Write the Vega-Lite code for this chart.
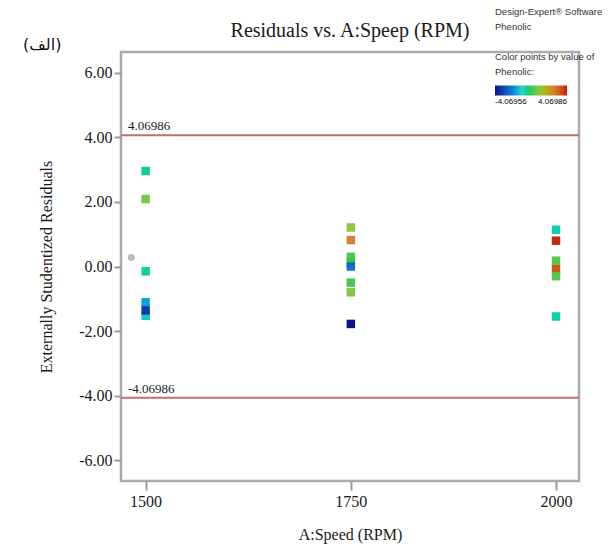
{
  "$schema": "https://vega.github.io/schema/vega-lite/v6.json",
  "width": 458,
  "height": 429,
  "autosize": {"type": "none"},
  "padding": {"left": 121, "top": 52, "right": 34, "bottom": 65},
  "background": "white",
  "title": {
    "text": "Residuals vs. A:Speep (RPM)",
    "anchor": "middle",
    "frame": "group",
    "font": "Liberation Serif",
    "fontSize": 20,
    "fontWeight": "normal",
    "color": "#1a1a1a",
    "offset": 0,
    "dy": 34
  },
  "config": {
    "view": {"stroke": "#ababab", "strokeWidth": 2.5},
    "axis": {
      "grid": false,
      "domain": false,
      "tickColor": "#9a9a9a",
      "tickWidth": 2,
      "labelFont": "Liberation Serif",
      "labelColor": "#1a1a1a",
      "titleFont": "Liberation Serif",
      "titleColor": "#1a1a1a",
      "titleFontWeight": "normal"
    }
  },
  "datasets": {
    "residuals": [
      {"speed": 1500, "resid": 2.96, "phenolic": -0.4},
      {"speed": 1500, "resid": 2.09, "phenolic": 0.7},
      {"speed": 1500, "resid": -0.15, "phenolic": -0.6},
      {"speed": 1500, "resid": -1.11, "phenolic": -1.7},
      {"speed": 1500, "resid": -1.53, "phenolic": -1.1},
      {"speed": 1500, "resid": -1.36, "phenolic": -3.3},
      {"speed": 1750, "resid": 1.21, "phenolic": 1.2},
      {"speed": 1750, "resid": 0.82, "phenolic": 2.6},
      {"speed": 1750, "resid": 0.3, "phenolic": 0.2},
      {"speed": 1750, "resid": 0.12, "phenolic": 0.0},
      {"speed": 1750, "resid": 0.0, "phenolic": -2.4},
      {"speed": 1750, "resid": -0.5, "phenolic": 0.1},
      {"speed": 1750, "resid": -0.8, "phenolic": 1.0},
      {"speed": 1750, "resid": -1.78, "phenolic": -4.0},
      {"speed": 2000, "resid": 1.14, "phenolic": -0.7},
      {"speed": 2000, "resid": 0.8, "phenolic": 3.9},
      {"speed": 2000, "resid": -0.08, "phenolic": 3.3},
      {"speed": 2000, "resid": 0.18, "phenolic": 0.3},
      {"speed": 2000, "resid": -0.3, "phenolic": 0.3},
      {"speed": 2000, "resid": -1.55, "phenolic": -0.6}
    ],
    "limits": [
      {"limit": 4.06986, "label": "4.06986"},
      {"limit": -4.06986, "label": "-4.06986"}
    ],
    "hidden": [
      {"speed": 1482.5, "resid": 0.28}
    ],
    "tag": [
      {"tag": "(الف)"}
    ]
  },
  "encoding": {
    "x": {
      "type": "quantitative",
      "scale": {"domain": [1470, 2028], "nice": false, "zero": false},
      "axis": {
        "title": "A:Speed (RPM)",
        "values": [1500, 1750, 2000],
        "format": "d",
        "tickSize": 9,
        "labelFontSize": 16,
        "labelPadding": 3,
        "titleFontSize": 16,
        "titlePadding": 17
      }
    },
    "y": {
      "type": "quantitative",
      "scale": {"domain": [-6.65, 6.65], "nice": false, "zero": false},
      "axis": {
        "title": "Externally Studentized Residuals",
        "values": [-6, -4, -2, 0, 2, 4, 6],
        "labelExpr": "replace(format(datum.value, '.2f'), '\u2212', '-')",
        "tickSize": 7,
        "labelFontSize": 16,
        "labelPadding": 2,
        "titleFontSize": 16,
        "titlePadding": 24
      }
    }
  },
  "layer": [
    {
      "data": {"name": "limits"},
      "mark": {"type": "rule", "color": "#c46e6e", "strokeWidth": 2},
      "encoding": {"y": {"field": "limit", "type": "quantitative"}}
    },
    {
      "data": {"name": "limits"},
      "mark": {"type": "text", "align": "left", "baseline": "bottom", "dx": 7, "dy": -2, "font": "Liberation Serif", "fontSize": 13, "color": "#1a1a1a"},
      "encoding": {
        "x": {"datum": 1470, "type": "quantitative"},
        "y": {"field": "limit", "type": "quantitative"},
        "text": {"field": "label"}
      }
    },
    {
      "mark": {"type": "rule", "color": "#5a5a5a", "strokeWidth": 2},
      "encoding": {"y": {"datum": 0, "type": "quantitative"}}
    },
    {
      "data": {"name": "hidden"},
      "mark": {"type": "point", "shape": "circle", "filled": true, "size": 35, "color": "#a8a8a8", "stroke": "#8a8a8a", "strokeWidth": 1},
      "encoding": {
        "x": {"field": "speed", "type": "quantitative"},
        "y": {"field": "resid", "type": "quantitative"}
      }
    },
    {
      "data": {"name": "residuals"},
      "mark": {"type": "point", "shape": "square", "filled": true, "size": 72, "opacity": 0.95},
      "encoding": {
        "x": {"field": "speed", "type": "quantitative"},
        "y": {"field": "resid", "type": "quantitative"},
        "fill": {
          "field": "phenolic",
          "type": "quantitative",
          "scale": {
            "type": "linear",
            "domain": [-4.06956, -2.2, -1, 0, 1.2, 2.6, 4.06986],
            "range": ["#000080", "#1a6fd0", "#2ccfc0", "#2ec54a", "#8cc530", "#d4782a", "#c00000"]
          },
          "legend": {
            "type": "gradient",
            "orient": "none",
            "legendX": 374,
            "legendY": -45,
            "direction": "horizontal",
            "title": ["Design-Expert® Software", "Phenolic", "\u200b", "Color points by value of", "Phenolic:"],
            "titleFont": "Liberation Sans",
            "titleFontSize": 9.5,
            "titleFontWeight": "normal",
            "titleColor": "#333333",
            "titleLineHeight": 15,
            "titlePadding": 9,
            "titleLimit": 0,
            "gradientLength": 72,
            "gradientThickness": 10,
            "gradientStrokeWidth": 0,
            "values": [-4.06956, 4.06986],
            "labelExpr": "replace(format(datum.value, '.5f'), '\u2212', '-')",
            "labelOverlap": false,
            "labelFont": "Liberation Sans",
            "labelFontSize": 8,
            "labelOffset": 2,
            "labelLimit": 0,
            "encode": {
              "labels": {
                "fill": {"condition": {"test": "datum.value < 0", "value": "#2a2a9a"}, "value": "#c03030"}
              }
            }
          }
        }
      }
    },
    {
      "data": {"name": "tag"},
      "mark": {"type": "text", "font": "DejaVu Sans", "fontSize": 16, "color": "#111111", "clip": false},
      "encoding": {
        "x": {"datum": 1374, "type": "quantitative"},
        "y": {"datum": 6.87, "type": "quantitative"},
        "text": {"field": "tag"}
      }
    }
  ]
}
